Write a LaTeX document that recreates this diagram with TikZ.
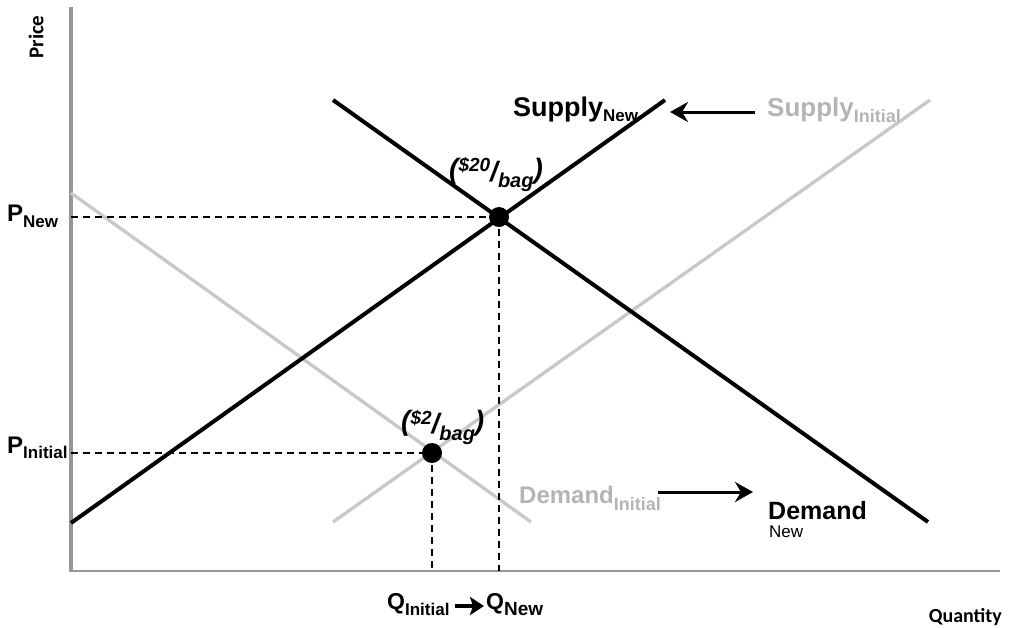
\documentclass[tikz,border=0pt]{standalone}
\usepackage{fontspec}
\setmainfont{Liberation Sans}
\newfontfamily\carl{Carlito}
\usetikzlibrary{arrows.meta}
\definecolor{axisgray}{RGB}{150,150,150}
\definecolor{linegray}{RGB}{200,200,200}
\definecolor{textgray}{RGB}{180,180,180}
\newcommand\fs[1]{\fontsize{#1}{#1}\selectfont}
\begin{document}
\begin{tikzpicture}[x=1pt,y=-1pt,
  axisline/.style={draw=axisgray},
  blackcurve/.style={draw=black,line width=4pt},
  graycurve/.style={draw=linegray,line width=3.3pt},
  guide/.style={draw=black,line width=1.9pt,dash pattern=on 7pt off 5pt},
  eqdot/.style={circle,fill=black,inner sep=0pt,minimum size=20pt},
  lbl/.style={inner sep=0pt,font=\bfseries},
  shiftarrow/.style={draw=black,line width=3pt,-{Stealth[length=18pt,width=20pt,inset=6pt]}},
  axlabel/.style={inner sep=0pt,font=\carl\bfseries\fs{20}}
]
\useasboundingbox (0,0) rectangle (1011,627);
% axes
\coordinate (o) at (71,571);
\coordinate (ytop) at (71,7);
\coordinate (xend) at (1000,571);
\draw[axisline,line width=3.6pt] (ytop) -- (o);
\draw[axisline,line width=2pt] ([xshift=-1.8pt]o) -- (xend);
% curve end points
\coordinate (si1) at (333,522); \coordinate (si2) at (930,100);
\coordinate (di1) at (71,193);  \coordinate (di2) at (531,522);
\coordinate (sn1) at (71,523);  \coordinate (sn2) at (665,100);
\coordinate (dn1) at (333,100); \coordinate (dn2) at (928,522);
% gray initial curves
\draw[graycurve] (si1) -- (si2);
\draw[graycurve] (di1) -- (di2);
% black new curves
\draw[blackcurve] (sn1) -- (sn2);
\draw[blackcurve] (dn1) -- (dn2);
% equilibria
\node[eqdot] (eN) at (499,217) {};
\node[eqdot] (eI) at (432,453) {};
\coordinate (pN) at (71,217);
\coordinate (pI) at (71,453);
\coordinate (qN) at (499,571);
\coordinate (qI) at (432,571);
\draw[guide] (pN) -- (eN.center);
\draw[guide] (pI) -- (eI.center);
\draw[guide] (eN.center) -- (qN);
\draw[guide] (eI.center) -- (qI);
% axis labels
\node[axlabel,rotate=90,font=\carl\bfseries\fs{21}] (price) at (36,37) {Price};
\node[axlabel,anchor=base east] (qty) at (1002,622) {Quantity};
% price labels
\node[lbl,anchor=base west] (lpN) at (7,221) {\fs{24}P\raisebox{-6pt}{\fs{17}New}};
\node[lbl,anchor=base west] (lpI) at (7,453) {\fs{24}P\raisebox{-5pt}{\fs{17}Initial}};
% quantity labels
\node[lbl,anchor=base west] (lqI) at (387,609) {\fs{23}Q\raisebox{-6pt}{\fs{17}Initial}};
\node[lbl,anchor=base west] (lqN) at (486,609) {\fs{23}Q\raisebox{-6pt}{\fs{19}New}};
\coordinate (qaS) at (455,606);
\coordinate (qaE) at (484,606);
\draw[draw=black,line width=4pt,-{Stealth[length=14pt,width=18pt,inset=3pt]}] (qaS) -- (qaE);
% supply labels
\node[lbl,anchor=base west] (lsN) at (513,116) {\fs{27}Supply\raisebox{-5pt}{\fs{17}New}};
\node[lbl,anchor=base west,text=textgray] (lsI) at (767,116) {\fs{26}Supply\raisebox{-6pt}{\fs{18}Initial}};
\coordinate (asS) at (755,112);
\coordinate (asE) at (670,112);
\draw[shiftarrow] (asS) -- (asE);
% demand labels
\node[lbl,anchor=base west,text=textgray] (ldI) at (519,503) {\fs{24}Demand\raisebox{-7pt}{\fs{18}Initial}};
\node[lbl,anchor=base west] (ldN) at (768,519) {\fs{25}Demand};
\node[inner sep=0pt,anchor=base west] (ldNs) at (769,537) {\fs{17}New};
\coordinate (adS) at (658,492);
\coordinate (adE) at (753,492);
\draw[shiftarrow] (adS) -- (adE);
% price-per-bag labels
\node[lbl,anchor=base west,font=\bfseries\itshape] (bagN) at (449,178)
  {\fs{28}(\raisebox{7pt}{\fs{19}\$20}\raisebox{-3pt}{/}\raisebox{-9pt}{\fs{20}bag})};
\node[lbl,anchor=base west,font=\bfseries\itshape] (bagI) at (401,430)
  {\fs{28}(\raisebox{6pt}{\fs{19}\$2}\raisebox{-3pt}{/}\raisebox{-10pt}{\fs{20}bag})};
\end{tikzpicture}
\end{document}
